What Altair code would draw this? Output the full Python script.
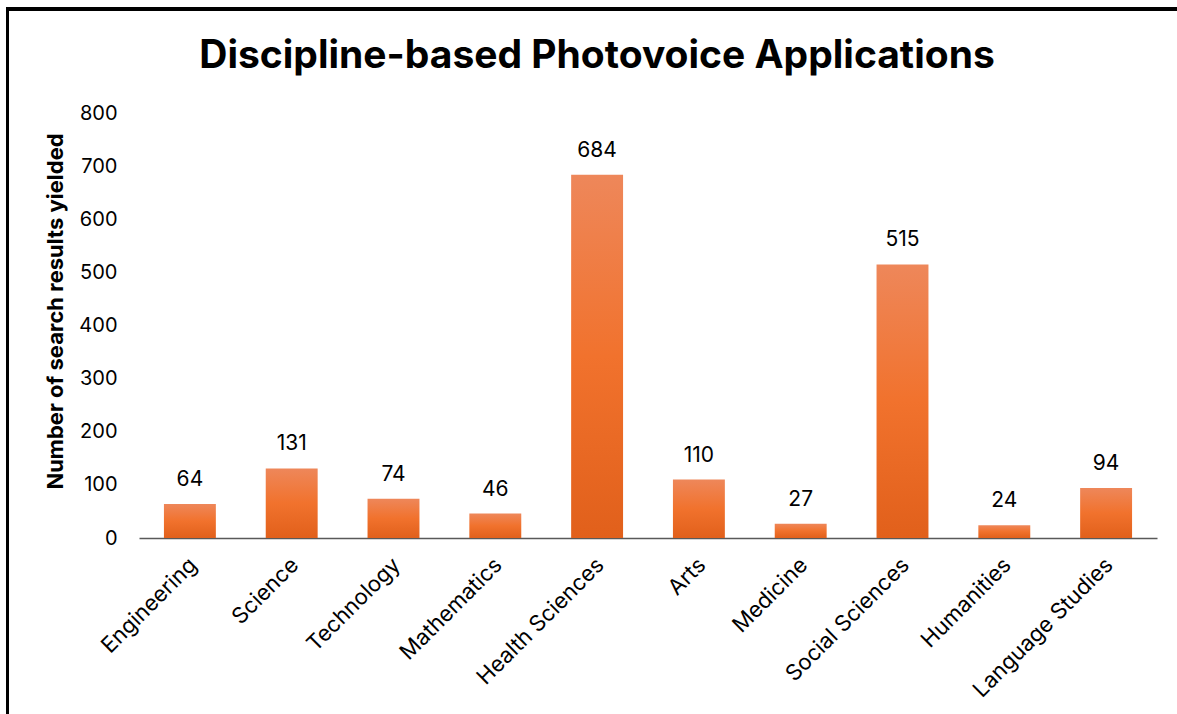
import altair as alt
import pandas as pd

categories = ["Engineering", "Science", "Technology", "Mathematics", "Health Sciences",
              "Arts", "Medicine", "Social Sciences", "Humanities", "Language Studies"]
values = [64, 131, 74, 46, 684, 110, 27, 515, 24, 94]

df = pd.DataFrame({"Discipline": categories, "Count": values})

W, H = 1018, 425
PAD_L, PAD_T = 139, 113
FONT = "Inter"

grad = alt.Gradient(
    gradient="linear",
    stops=[alt.GradientStop(color="#EE875A", offset=0),
           alt.GradientStop(color="#F1722D", offset=0.5),
           alt.GradientStop(color="#E1601B", offset=1)],
    x1=1, x2=1, y1=0, y2=1,
)

x_enc = alt.X("Discipline:N", sort=categories, title=None,
              scale=alt.Scale(paddingInner=0.49, paddingOuter=0.245),
              axis=alt.Axis(labelAngle=315, labelFontSize=22, labelFont=FONT,
                            labelColor="#000000", labelPadding=16, labelOffset=-4,
                            ticks=False, domainColor="#595959", domainWidth=1.5,
                            labelLimit=300))
y_enc = alt.Y("Count:Q", title="Number of  search results yielded",
              scale=alt.Scale(domain=[0, 800], nice=False),
              axis=alt.Axis(values=list(range(0, 801, 100)), grid=False, domain=False,
                            ticks=False, labelFontSize=20, labelFont=FONT,
                            labelColor="#000000", labelPadding=22,
                            titleFontSize=22, titleFont=FONT, titleFontWeight="bold",
                            titleColor="#000000", titlePadding=11, titleY=198))

base = alt.Chart(df)

bars = base.mark_bar(color=grad).encode(x=x_enc, y=y_enc)

labels = base.mark_text(fontSize=21, font=FONT, color="#000000", dy=-14,
                        baseline="bottom").encode(
    x=alt.X("Discipline:N", sort=categories),
    y="Count:Q",
    text="Count:Q",
)

title_df = pd.DataFrame({"t": ["Discipline-based Photovoice Applications"]})
title = alt.Chart(title_df).mark_text(fontSize=39, font=FONT, fontWeight="bold",
                                      color="#000000", align="center",
                                      baseline="alphabetic").encode(
    x=alt.value(597 - PAD_L), y=alt.value(68 - PAD_T), text="t:N")

left_frame = alt.Chart(df).mark_rule(color="#000000", strokeWidth=3).encode(
    x=alt.value(7.5 - PAD_L), y=alt.value(8 - PAD_T), y2=alt.value(714 - PAD_T + 10))
top_frame = alt.Chart(df).mark_rule(color="#000000", strokeWidth=3).encode(
    y=alt.value(9 - PAD_T), x=alt.value(6 - PAD_L), x2=alt.value(1177 - PAD_L + 10))

chart = alt.layer(bars, labels, title, left_frame, top_frame).properties(
    width=W, height=H,
    background="#FFFFFF",
    autosize=alt.AutoSizeParams(type="none"),
    padding={"left": PAD_L, "top": PAD_T, "right": 1177 - PAD_L - W, "bottom": 714 - PAD_T - H},
).configure_view(stroke=None)

chart.save("out.html", embed_options={"renderer": "svg", "actions": False})
